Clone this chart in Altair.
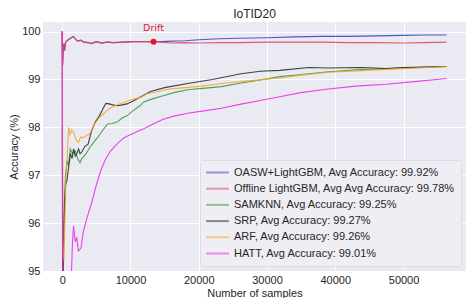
import altair as alt
import pandas as pd

LABELS = [
    "OASW+LightGBM, Avg Accuracy: 99.92%",
    "Offline LightGBM, Avg Avg Accuracy: 99.78%",
    "SAMKNN, Avg Accuracy: 99.25%",
    "SRP, Avg Accuracy: 99.27%",
    "ARF, Avg Accuracy: 99.26%",
    "HATT, Avg Accuracy: 99.01%",
]
COLORS = ["#3a3ad0", "#e0405a", "#2e9a2e", "#222222", "#f5a21e", "#f020f0"]

RED_X = [0, 60, 150, 250, 350, 500, 800, 1200, 1660, 2000, 2300, 2700, 3200, 3800,
         4300, 5000, 5800, 6500, 7500, 9000, 10500, 12000, 13370, 14500, 16000,
         18000, 20000, 23000, 26000, 30000, 34000, 38000, 42000, 46000, 50000,
         53000, 56300]
RED_Y = [100.0, 99.3, 99.6, 99.75, 99.6, 99.78, 99.82, 99.86, 99.9, 99.83, 99.8,
         99.82, 99.78, 99.77, 99.75, 99.79, 99.76, 99.78, 99.77, 99.78, 99.79,
         99.79, 99.79, 99.78, 99.76, 99.77, 99.76, 99.77, 99.77, 99.78, 99.78,
         99.78, 99.77, 99.77, 99.76, 99.77, 99.78]

DRIFT_X = [13370]
DRIFT_Y = [99.79]

BLUE_AFTER_X = [14500, 16000, 18000, 20000, 23000, 26000, 30000, 34000, 38000,
                42000, 46000, 50000, 53000, 56300]
BLUE_AFTER_Y = [99.79, 99.8, 99.81, 99.83, 99.85, 99.86, 99.87, 99.89, 99.9,
                99.9, 99.91, 99.92, 99.93, 99.93]
_k = RED_X.index(DRIFT_X[0]) + 1
BLUE_X = RED_X[:_k] + BLUE_AFTER_X
BLUE_Y = RED_Y[:_k] + BLUE_AFTER_Y

GREEN_X = [0, 60, 200, 470, 700, 900, 1180, 1500, 1900, 2250, 2600, 2850, 3080,
           3500, 4030, 4700, 5450, 6000, 6640, 7300, 8070, 8800, 9490, 10400,
           11380, 11950, 13300, 14790, 16500, 18590, 21000, 23330, 26000, 29020,
           31860, 34710, 38980, 43000, 47500, 52000, 56300]
GREEN_Y = [98.0, 94.5, 96.0, 96.99, 97.3, 97.2, 97.55, 97.45, 97.51, 97.35, 97.26,
           97.35, 97.38, 97.45, 97.58, 97.7, 97.84, 97.95, 98.07, 98.08, 98.11,
           98.2, 98.24, 98.35, 98.45, 98.53, 98.6, 98.66, 98.73, 98.79, 98.82,
           98.85, 98.92, 98.99, 99.06, 99.1, 99.16, 99.2, 99.23, 99.25, 99.27]

BLACK_X = [0, 80, 200, 350, 500, 700, 950, 1200, 1450, 1660, 1900, 2130, 2400,
           2600, 2845, 3300, 3790, 4270, 4800, 5450, 6000, 6400, 6870, 7400, 8070,
           8800, 9480, 10400, 11380, 12940, 15000, 18600, 22000, 26170, 29000,
           31860, 36130, 39000, 43700, 47500, 50000, 53000, 56300]
BLACK_Y = [100.0, 94.5, 95.5, 96.4, 96.8, 96.9, 97.18, 97.45, 97.35, 97.55, 97.4,
           97.45, 97.55, 97.45, 97.48, 97.6, 97.65, 97.91, 98.1, 98.24, 98.4, 98.5,
           98.49, 98.47, 98.45, 98.47, 98.49, 98.55, 98.63, 98.75, 98.83, 98.92,
           99.0, 99.12, 99.17, 99.19, 99.25, 99.24, 99.25, 99.23, 99.25, 99.26,
           99.27]

ORANGE_X = [0, 100, 250, 500, 800, 950, 1150, 1400, 1650, 2000, 2370, 2700, 3080,
            3500, 4030, 4740, 5400, 6160, 7000, 8070, 9000, 9960, 11380, 12420,
            14000, 15740, 18000, 20480, 22500, 24510, 28000, 31860, 35000, 38980,
            43000, 47500, 52000, 56300]
ORANGE_Y = [100.0, 95.5, 95.2, 96.8, 97.6, 98.0, 97.85, 97.95, 97.9, 97.75, 97.68,
            97.8, 97.78, 97.82, 97.87, 98.07, 98.2, 98.3, 98.4, 98.47, 98.52, 98.57,
            98.62, 98.7, 98.75, 98.8, 98.83, 98.86, 98.9, 98.93, 98.98, 99.03,
            99.09, 99.15, 99.18, 99.21, 99.24, 99.27]

MAGENTA_X = [0, 50, 150, 1320, 1500, 1660, 1900, 2130, 2370, 2750, 3080, 3600,
             4270, 5000, 5690, 6400, 7110, 8000, 9010, 10200, 11380, 11950, 13300,
             14790, 16500, 18590, 21000, 23330, 26000, 29020, 31860, 34710, 38980,
             43000, 47500, 52000, 56300]
MAGENTA_Y = [100.0, 95.7, 93.5, 94.8, 95.6, 95.94, 95.61, 95.69, 95.42, 95.48,
             95.81, 96.1, 96.4, 96.8, 97.12, 97.35, 97.51, 97.65, 97.78, 97.86,
             97.94, 97.97, 98.07, 98.17, 98.24, 98.3, 98.35, 98.4, 98.48, 98.56,
             98.64, 98.72, 98.8, 98.86, 98.9, 98.96, 99.02]

X_TICKS = [0, 10000, 20000, 30000, 40000, 50000]
Y_TICKS = [95, 96, 97, 98, 99, 100]

series = [
    (LABELS[0], BLUE_X, BLUE_Y),
    (LABELS[1], RED_X, RED_Y),
    (LABELS[2], GREEN_X, GREEN_Y),
    (LABELS[3], BLACK_X, BLACK_Y),
    (LABELS[4], ORANGE_X, ORANGE_Y),
    (LABELS[5], MAGENTA_X, MAGENTA_Y),
]
rows = []
for order, (name, xs, ys) in enumerate(series):
    for i, (xv, yv) in enumerate(zip(xs, ys)):
        rows.append({"model": name, "x": xv, "y": yv, "i": i, "o": order})
df = pd.DataFrame(rows)
drift_df = pd.DataFrame({"x": DRIFT_X, "y": DRIFT_Y, "t": ["Drift"]})

xscale = alt.Scale(domain=[-2816, 59146], nice=False, zero=False)
yscale = alt.Scale(domain=[95, 100.2], nice=False, zero=False)

lines = alt.Chart(df).mark_line(strokeWidth=1.1, opacity=0.85, clip=True).encode(
    x=alt.X("x:Q", scale=xscale, title="Number of samples",
            axis=alt.Axis(values=X_TICKS, format="d")),
    y=alt.Y("y:Q", scale=yscale, title="Accuracy (%)",
            axis=alt.Axis(values=Y_TICKS, format="d")),
    color=alt.Color("model:N", sort=LABELS,
                    scale=alt.Scale(domain=LABELS, range=COLORS),
                    legend=alt.Legend(title=None, orient="bottom-right",
                                      symbolType="stroke", symbolSize=520,
                                      symbolStrokeWidth=2, symbolOpacity=0.5,
                                      labelFontSize=11, labelFont="Liberation Sans",
                                      labelColor="#262626", labelLimit=400,
                                      clipHeight=15, rowPadding=1.2,
                                      padding=5, offset=5, cornerRadius=3,
                                      fillColor="#EEEEF4", strokeColor="#DCDCE6")),
    detail="model:N",
    order="i:Q",
)

dot = alt.Chart(drift_df).mark_point(filled=True, size=36, color="#e8102a", opacity=1).encode(
    x=alt.X("x:Q", scale=xscale), y=alt.Y("y:Q", scale=yscale)
)
txt = alt.Chart(drift_df).mark_text(font="DejaVu Sans", fontSize=9.5, color="#e02030",
                                    dy=-9, baseline="bottom").encode(
    x=alt.X("x:Q", scale=xscale), y=alt.Y("y:Q", scale=yscale), text="t:N"
)

chart = alt.layer(lines, dot, txt).properties(
    width=458, height=290,
    title=alt.TitleParams("IoTID20", fontSize=12, font="Liberation Sans",
                          fontWeight="normal", color="#262626", offset=1),
    autosize=alt.AutoSizeParams(type="fit", contains="padding"),
    padding=0,
).configure_view(
    fill="#EAEAF2", strokeWidth=0
).configure_axis(
    grid=True, gridColor="#FFFFFF", gridWidth=1, domain=False, ticks=False,
    labelFont="Liberation Sans", labelFontSize=11, labelColor="#262626",
    labelPadding=3, titleFont="Liberation Sans", titleFontSize=11,
    titleFontWeight="normal", titleColor="#262626", titlePadding=2,
)

chart.save("out.html", embed_options={"renderer": "svg", "actions": False})
